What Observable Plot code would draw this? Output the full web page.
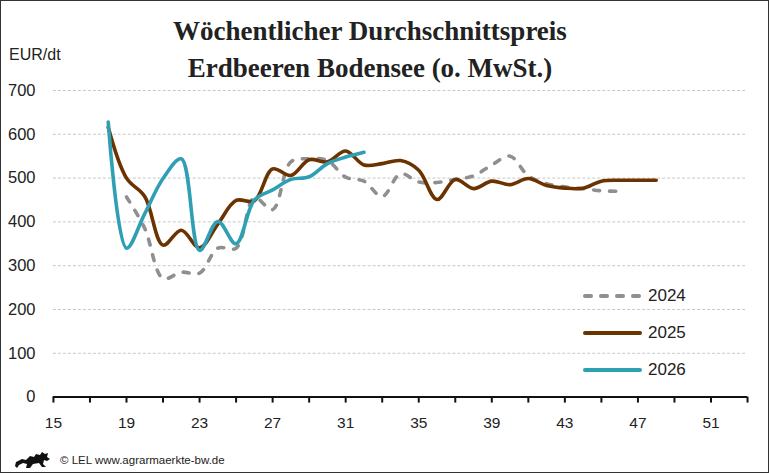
<!DOCTYPE html>
<html>
<head>
<meta charset="utf-8">
<script src="https://cdn.jsdelivr.net/npm/d3@7"></script>
<script src="https://cdn.jsdelivr.net/npm/@observablehq/plot@0.6"></script>
<style>
  body { margin: 0; background: #fff; }
  #chart {
    position: relative; width: 769px; height: 473px;
    border: 1px solid #333; box-sizing: border-box; overflow: hidden;
    font-family: "Liberation Sans", Arial, sans-serif; color: #222;
  }
  #title {
    position: absolute; left: 0; width: 738px; top: 12px; text-align: center;
    font-family: "Liberation Serif", serif; font-weight: bold; font-size: 27px;
    line-height: 37px; color: #222;
  }
  #unit { position: absolute; left: 8px; top: 45px; font-size: 16px; }
  #plot { position: absolute; left: -1px; top: 79px; }
  #legend { position: absolute; left: 581px; top: 283px; font-size: 17px; }
  #legend div { height: 37.2px; display: flex; align-items: flex-start; }
  #legend svg { margin-right: 4px; }
  #footer { position: absolute; left: 13px; top: 449px; font-size: 11.5px; display: flex; align-items: center; }
  #footer svg { margin-right: 8px; }
</style>
</head>
<body>
<div id="chart">
  <div id="title">Wöchentlicher Durchschnittspreis<br>Erdbeeren Bodensee (o. MwSt.)</div>
  <div id="unit">EUR/dt</div>
  <div id="plot"></div>
  <div id="legend"></div>
  <div id="footer">
    <svg width="38" height="20" viewBox="0 0 38 20">
      <path d="M2 12 L8 9 L12 10 L16 6 L20 7 L22 4 L26 5 L28 2 L31 4 L34 3 L33 7 L36 9 L33 11 L30 10 L29 14 L32 17 L28 17 L25 13 L19 14 L16 18 L12 18 L13 14 L9 13 L5 15 L3 18 L1 16 Z" fill="#111"/>
    </svg>
    <span>© LEL www.agrarmaerkte-bw.de</span>
  </div>
</div>
<script>
// weeks and prices (EUR/dt)
const weeks2024 = d3.range(19, 47);
const price2024 = [457, 385, 271, 285, 283, 340, 340, 455, 428, 537, 544, 540, 502, 493,
                   458, 510, 491, 490, 497, 505, 530, 550, 505, 487, 480, 476, 471, 470];

const weeks2025 = d3.range(18, 49);
const price2025 = [616, 500, 458, 347, 381, 341, 395, 449, 448, 521, 506, 542, 537, 562,
                   530, 533, 540, 518, 451, 497, 476, 493, 485, 499, 483, 477, 477, 493,
                   495, 495, 495];

const weeks2026 = d3.range(18, 33);
const price2026 = [628, 340, 419, 499, 544, 335, 401, 350, 450, 473, 497, 503, 533, 548, 559];

const series = [
  {name: "2024", weeks: weeks2024, values: price2024, color: "#8f8f8f", dash: "6,10"},
  {name: "2025", weeks: weeks2025, values: price2025, color: "#6b3300", dash: null},
  {name: "2026", weeks: weeks2026, values: price2026, color: "#2f9fb3", dash: null}
];

const xTicks = d3.range(15, 54, 2);
const yTicks = d3.range(0, 701, 100);

const toRows = s => s.weeks.map((w, i) => ({week: w, price: s.values[i]}));

let chart = Plot.plot({
  width: 769,
  height: 360,
  marginTop: 10,
  marginBottom: 43,
  marginLeft: 53,
  marginRight: 21,
  style: {fontFamily: "Liberation Sans, Arial, sans-serif", color: "#222", background: "transparent"},
  x: {domain: [15, 53]},
  y: {domain: [0, 700]},
  marks: [
    Plot.gridY(yTicks.filter(d => d > 0), {stroke: "#c8c8c8", strokeOpacity: 1, strokeDasharray: "3,2"}),
    Plot.axisY(yTicks, {tickSize: 0, tickPadding: 18, fontSize: 16.5, label: null}),
    Plot.axisX(xTicks, {
      tickSize: 6, tickPadding: 14, fontSize: 15.5, label: null, strokeWidth: 2, stroke: "#111",
      tickFormat: d => (d - 15) % 4 === 0 ? d : ""
    }),
    Plot.ruleY([0], {stroke: "#111", strokeWidth: 2}),
    ...series.map(s => Plot.line(toRows(s), {
      x: "week", y: "price", stroke: s.color, strokeWidth: 3.6,
      strokeDasharray: s.dash, strokeLinecap: "round",
      curve: "catmull-rom"
    }))
  ]
});

d3.select("#plot").append(() => chart);

// legend
const legend = d3.select("#legend");
series.forEach(s => {
  const row = legend.append("div");
  const svg = row.append("svg").attr("width", 62).attr("height", 24);
  svg.append("line").attr("x1", 3).attr("x2", 58).attr("y1", 12).attr("y2", 12)
    .attr("stroke", s.color).attr("stroke-width", 4).attr("stroke-linecap", "round")
    .attr("stroke-dasharray", s.dash);
  row.append("span").style("line-height", "24px").text(s.name);
});
</script>
</body>
</html>
